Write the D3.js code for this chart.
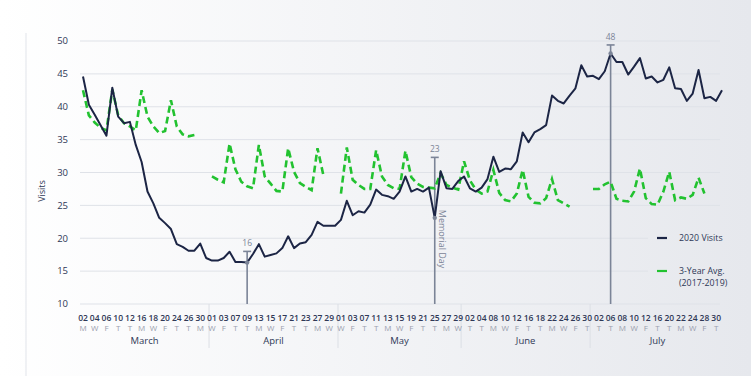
<!DOCTYPE html>
<html>
<head>
<meta charset="utf-8">
<script src="https://cdn.jsdelivr.net/npm/d3@7"></script>
<style>
  body { margin: 0; }
  svg { display: block; font-family: "Open Sans", sans-serif; }
</style>
</head>
<body>
<div id="chart"></div>
<script>
// weekdays only, Mar 2 - Jul 31 2020
const visits2020 = [
  44.6, 40.3, 38.8, 37.2, 35.6, 42.9, 38.5, 37.5, 37.7, 34.2,
  31.6, 27.1, 25.3, 23.1, 22.3, 21.4, 19.1, 18.7, 18.1, 18.1,
  19.2, 17.0, 16.6, 16.6, 17.0, 17.95, 16.4, 16.4, 16.3, 17.6,
  19.1, 17.2, 17.45, 17.7, 18.5, 20.3, 18.5, 19.2, 19.4, 20.5,
  22.5, 21.9, 21.9, 21.9, 22.8, 25.7, 23.5, 24.1, 23.9, 25.1,
  27.4, 26.6, 26.4, 26.0, 27.1, 29.4, 27.1, 27.5, 27.1, 27.7,
  23.1, 30.2, 27.6, 27.5, 28.7, 29.4, 27.6, 27.1, 27.7, 29.0,
  32.4, 30.1, 30.6, 30.5, 31.7, 36.1, 34.6, 36.1, 36.6, 37.2,
  41.7, 40.9, 40.5, 41.7, 42.8, 46.3, 44.6, 44.7, 44.2, 45.4,
  48.1, 46.8, 46.8, 44.9, 46.1, 47.4, 44.3, 44.6, 43.7, 44.1,
  46.0, 42.8, 42.7, 40.9, 42.0, 45.6, 41.3, 41.5, 40.9, 42.5
]
const avg3yr = [
  42.5, 38.7, 37.6, 36.8, 36.4, 42.6, 38.7, 37.5, 37.0, 36.4,
  42.5, 38.5, 37.0, 36.0, 36.3, 41.0, 37.0, 35.8, 35.5, 35.7,
  null, null,
  29.4, 28.9, 28.5, 34.4, 30.5, 28.6, 27.9, 27.6, 34.2, 29.4,
  28.3, 27.2, 27.1, 33.7, 30.1, 28.4, 27.8, 27.3, 33.7, 29.6,
  null, null,
  26.8, 33.8, 28.9, 28.1, 27.5, 27.5, 33.4, 29.4, 28.1, 27.6,
  27.5, 33.3, 29.3, 28.3, 27.8, 27.7, 27.6, 29.9, 28.1, 27.7,
  27.4, 31.7, 28.8, 27.4, 26.8, 27.1, 30.4, 26.9, 25.8, 25.6,
  26.8, 30.4, 26.3, 25.4, 25.3, 26.1, 29.0, 25.8, 25.3, 24.8,
  null, null, null,
  27.5, 27.5, 28.2, 28.6, 26.0, 25.7, 25.6, 27.1, 30.6, 26.1,
  25.2, 25.1, 27.1, 30.1, 25.8, 26.2, 26.0, 26.6, 29.2, 26.8,
  null, null, null
]

const months = ["March", "April", "May", "June", "July"]
const monthLengths = [22, 22, 21, 22, 23]   // weekdays in each month

// labels under every second point
const tickDays = [
  "02","04","06","10","12","16","18","20","24","26","30",
  "01","03","07","09","13","15","17","21","23","27","29",
  "01","03","07","11","13","15","19","21","25","27","29",
  "02","04","08","10","12","16","18","22","24","26","30",
  "02","06","08","10","12","16","20","22","24","28","30"
]
const tickWeekdays = [
  "M","W","F","T","T","M","W","F","T","T","M",
  "W","F","T","T","M","W","F","T","T","M","W",
  "W","F","T","T","M","W","F","T","T","M","W",
  "T","T","M","W","F","T","T","M","W","F","T",
  "T","T","M","W","F","T","T","M","W","F","T"
]

const yTicks = [10, 15, 20, 25, 30, 35, 40, 45, 50]

const notes = [
  { i: 28, label: "16", cap: 18.0 },
  { i: 60, label: "23", cap: 32.3, text: "Memorial Day" },
  { i: 90, label: "48", cap: 49.4 }
]

const W = 751, H = 376
const navy = "#1c2545", green = "#22c230", annoGray = "#7b8497"
const textDark = "#2f3856", textGray = "#9aa0ae"

const svg = d3.select("#chart").append("svg")
  .attr("width", W)
  .attr("height", H)

const defs = svg.append("defs")
const grad = defs.append("linearGradient")
  .attr("id", "bg")
  .attr("gradientUnits", "userSpaceOnUse")
  .attr("x1", 0).attr("y1", 0).attr("x2", W).attr("y2", 0)
grad.append("stop").attr("offset", "0%").attr("stop-color", "#ffffff")
grad.append("stop").attr("offset", "100%").attr("stop-color", "#e6e8ed")

svg.append("rect").attr("width", W).attr("height", H).attr("fill", "url(#bg)")
// panel edge on the left
svg.append("line")
  .attr("x1", 26).attr("x2", 26)
  .attr("y1", 33).attr("y2", H)
  .attr("stroke", "#e1e4ea")

const x = d3.scalePoint()
  .domain(d3.range(visits2020.length))
  .range([83, 722])
const y = d3.scaleLinear()
  .domain([10, 50])
  .range([304, 41])

// grid
svg.append("g")
  .selectAll("line")
  .data(yTicks)
  .enter().append("line")
  .attr("x1", 80).attr("x2", 720)
  .attr("y1", d => y(d)).attr("y2", d => y(d))
  .attr("stroke", "#dfe2e8")
  .attr("stroke-width", 1)

// y labels
svg.append("g")
  .selectAll("text")
  .data(yTicks)
  .enter().append("text")
  .attr("x", 68)
  .attr("y", d => y(d))
  .attr("dy", "0.35em")
  .attr("text-anchor", "end")
  .attr("font-size", 9.5)
  .attr("fill", textDark)
  .text(d => d)

svg.append("text")
  .attr("transform", "translate(45,191) rotate(-90)")
  .attr("text-anchor", "middle")
  .attr("font-size", 9)
  .attr("fill", textDark)
  .text("Visits")

// month separators and names
let start = 0
const monthInfo = months.map((m, k) => {
  const o = { name: m, first: start, last: start + monthLengths[k] - 1 }
  start += monthLengths[k]
  return o
})
const step = x.step()
svg.append("g")
  .selectAll("line")
  .data(monthInfo.slice(1))
  .enter().append("line")
  .attr("x1", d => x(d.first) - step / 2).attr("x2", d => x(d.first) - step / 2)
  .attr("y1", 304).attr("y2", 348)
  .attr("stroke", "#dcdfe5")

svg.append("g")
  .selectAll("text")
  .data(monthInfo)
  .enter().append("text")
  .attr("x", d => (x(d.first) + x(d.last)) / 2)
  .attr("y", 344)
  .attr("text-anchor", "middle")
  .attr("font-size", 9.5)
  .attr("fill", textDark)
  .text(d => d.name)

// day ticks
const tickIdx = d3.range(0, visits2020.length, 2)
const ticks = svg.append("g")
  .selectAll("g")
  .data(tickIdx)
  .enter().append("g")
  .attr("transform", d => `translate(${x(d)},0)`)
ticks.append("text")
  .attr("y", 321)
  .attr("text-anchor", "middle")
  .attr("font-size", 8.5)
  .attr("font-weight", 600)
  .attr("fill", textDark)
  .text((d, k) => tickDays[k])
ticks.append("text")
  .attr("y", 331)
  .attr("text-anchor", "middle")
  .attr("font-size", 8)
  .attr("fill", textGray)
  .text((d, k) => tickWeekdays[k])

// annotations
const anno = svg.append("g")
  .selectAll("g")
  .data(notes)
  .enter().append("g")
anno.append("line")
  .attr("x1", d => x(d.i)).attr("x2", d => x(d.i))
  .attr("y1", 304).attr("y2", d => y(d.cap))
  .attr("stroke", annoGray).attr("stroke-width", 1.6)
anno.append("line")
  .attr("x1", d => x(d.i) - 4).attr("x2", d => x(d.i) + 4)
  .attr("y1", d => y(d.cap)).attr("y2", d => y(d.cap))
  .attr("stroke", annoGray).attr("stroke-width", 1.6)
anno.append("text")
  .attr("x", d => x(d.i))
  .attr("y", d => y(d.cap) - 5)
  .attr("text-anchor", "middle")
  .attr("font-size", 8.5)
  .attr("fill", annoGray)
  .text(d => d.label)
anno.filter(d => d.text).append("text")
  .attr("transform", d => `translate(${x(d.i) + 4},${y(visits2020[d.i]) - 8}) rotate(90)`)
  .attr("font-size", 9)
  .attr("fill", annoGray)
  .text(d => d.text)

// lines
const line = d3.line()
  .defined(d => d != null)
  .x((d, i) => x(i))
  .y(d => y(d))

svg.append("path")
  .datum(avg3yr)
  .attr("d", line)
  .attr("fill", "none")
  .attr("stroke", green)
  .attr("stroke-width", 2.6)
  .attr("stroke-dasharray", "7,4")

svg.append("path")
  .datum(visits2020)
  .attr("d", line)
  .attr("fill", "none")
  .attr("stroke", navy)
  .attr("stroke-width", 2)
  .attr("stroke-linejoin", "round")

svg.append("g")
  .selectAll("circle")
  .data(notes)
  .enter().append("circle")
  .attr("cx", d => x(d.i))
  .attr("cy", d => y(visits2020[d.i]))
  .attr("r", 2.2)
  .attr("fill", annoGray)

// legend
const legend = svg.append("g")
legend.append("rect")
  .attr("x", 648).attr("y", 226).attr("width", 100).attr("height", 68)
  .attr("fill", "url(#bg)")
const items = [
  { label: ["2020 Visits"], color: navy, y: 238 },
  { label: ["3-Year Avg.", "(2017-2019)"], color: green, y: 271 }
]
items.forEach(it => {
  legend.append("line")
    .attr("x1", 657).attr("x2", 667)
    .attr("y1", it.y).attr("y2", it.y)
    .attr("stroke", it.color)
    .attr("stroke-width", 2.2)
  it.label.forEach((t, k) => {
    legend.append("text")
      .attr("x", 679)
      .attr("y", it.y + k * 12)
      .attr("dy", "0.35em")
      .attr("font-size", 8.8)
      .attr("fill", textDark)
      .text(t)
  })
})
</script>
</body>
</html>
